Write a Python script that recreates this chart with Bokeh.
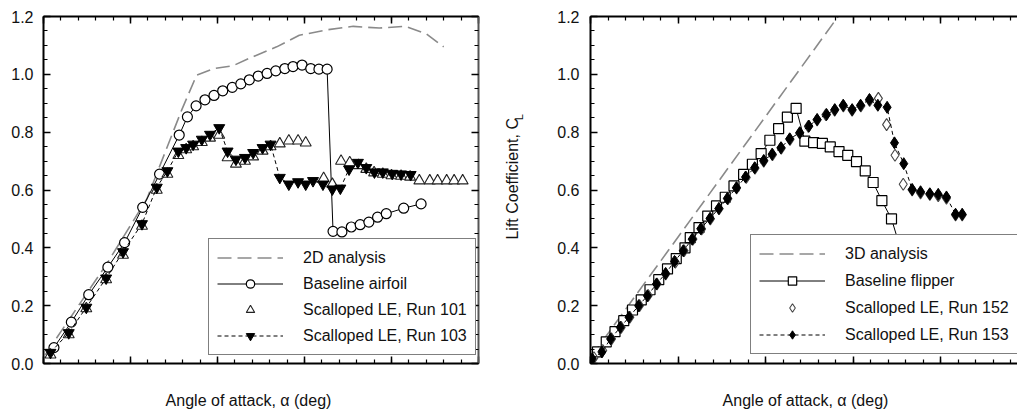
from bokeh.plotting import figure
from bokeh.models import (Range1d, LinearAxis, FixedTicker, PrintfTickFormatter,
                          Legend, LegendItem, CustomLabelingPolicy)
from bokeh.layouts import row, column
from bokeh.embed import file_html
from bokeh.resources import INLINE
from bokeh.core.properties import value
import math

FONT = "Liberation Sans"
GRAY = "#8a8a8a"
INK = "#111111"

# ---------------- Left panel (2D airfoil) ----------------
analysis2d_aoa = [0.1, 3.65, 5.94, 7.95, 8.8, 9.8, 10.9, 12.0, 13.4, 14.7, 16.3, 17.8, 19.3, 20.8, 22.0, 23.0]
analysis2d_cl = [0.03, 0.346, 0.569, 0.878, 0.997, 1.02, 1.03, 1.06, 1.095, 1.135, 1.154, 1.166, 1.16, 1.166, 1.14, 1.095]

airfoil_aoa = [0.6, 1.6, 2.6, 3.7, 4.66, 5.7, 6.67, 7.8, 8.27, 8.77, 9.28, 9.8, 10.3, 10.85, 11.34,
               11.83, 12.34, 12.85, 13.35, 13.87, 14.34, 14.86, 15.36, 15.83, 16.3,
               16.64, 17.15, 17.69, 18.2, 18.7, 19.2, 19.7, 20.7, 21.7]
airfoil_cl = [0.055, 0.143, 0.238, 0.333, 0.418, 0.54, 0.655, 0.79, 0.853, 0.891, 0.912, 0.927, 0.943, 0.955, 0.967,
              0.981, 0.994, 1.003, 1.012, 1.02, 1.027, 1.032, 1.02, 1.018, 1.018,
              0.457, 0.455, 0.472, 0.48, 0.489, 0.506, 0.518, 0.537, 0.552]

run101_aoa = [0.4, 1.45, 2.46, 3.6, 4.57, 5.66, 6.51, 7.12, 7.75, 8.2, 8.6, 9.1, 9.57, 10.1, 10.58, 11.06,
              11.58, 12.05, 12.59, 13.05, 13.58, 14.1, 14.63, 15.07, 16.1, 16.6, 17.1, 17.6, 18.1, 18.55,
              19.0, 19.5, 20.0, 20.55, 21.07, 21.6, 22.2, 22.65, 23.17, 23.6, 24.09]
run101_cl = [0.03, 0.10, 0.19, 0.29, 0.375, 0.475, 0.6, 0.655, 0.72, 0.74, 0.75, 0.765, 0.78, 0.79, 0.712, 0.69,
             0.7, 0.715, 0.735, 0.75, 0.76, 0.77, 0.77, 0.763, 0.64, 0.62, 0.70, 0.695, 0.685, 0.672,
             0.66, 0.655, 0.65, 0.648, 0.645, 0.632, 0.632, 0.632, 0.632, 0.632, 0.632]

run103_aoa = [0.4, 1.45, 2.46, 3.6, 4.57, 5.66, 6.51, 7.12, 7.75, 8.2, 8.6, 9.1, 9.57, 10.1, 10.58, 11.06,
              11.58, 12.05, 12.59, 13.05, 13.58, 14.1, 14.63, 15.07, 15.49, 16.06, 16.6, 17.06, 17.56,
              18.07, 18.55, 19.02, 19.5, 20.04, 20.55, 21.1]
run103_cl = [0.038, 0.106, 0.194, 0.295, 0.386, 0.483, 0.609, 0.666, 0.734, 0.746, 0.758, 0.775, 0.792, 0.815,
             0.734, 0.706, 0.712, 0.729, 0.746, 0.758, 0.643, 0.62, 0.628, 0.62, 0.632, 0.62, 0.603, 0.606,
             0.672, 0.695, 0.677, 0.662, 0.662, 0.657, 0.655, 0.653]

# ---------------- Right panel (3D flipper) ----------------
analysis3d_aoa = [0.0, 14.15]
analysis3d_cl = [0.02, 1.2]

flipper_aoa = [0.4, 0.9, 1.4, 1.9, 2.4, 2.9, 3.4, 3.9, 4.4, 4.9, 5.4, 5.7, 6.2, 6.7, 7.2, 7.7, 8.2, 8.75,
               9.25, 9.75, 10.25, 10.75, 11.25, 11.75, 12.25, 12.75, 13.25, 13.7, 14.2, 14.7, 15.2,
               15.7, 16.15, 16.65, 17.2, 17.7]
flipper_cl = [0.04, 0.075, 0.11, 0.148, 0.185, 0.22, 0.255, 0.29, 0.327, 0.363, 0.4, 0.435, 0.47, 0.51,
              0.545, 0.575, 0.614, 0.654, 0.689, 0.726, 0.772, 0.812, 0.852, 0.882, 0.769, 0.764, 0.761,
              0.749, 0.733, 0.72, 0.698, 0.666, 0.626, 0.563, 0.5, 0.40]

run152_aoa = [0.2, 0.7, 1.2, 1.75, 2.25, 2.8, 3.3, 3.8, 4.3, 4.85, 5.35, 5.85, 6.35, 6.85, 7.35, 7.85, 8.35,
              8.9, 9.4, 9.9, 10.4, 10.9, 11.4, 11.95, 12.45, 12.95, 13.45, 13.95, 14.45, 14.95, 15.45,
              15.95, 16.45, 16.92, 17.4, 17.87, 18.38, 18.86, 19.39, 19.87, 20.34, 20.86, 21.24]
run152_cl = [0.02, 0.045, 0.085, 0.125, 0.16, 0.2, 0.235, 0.275, 0.31, 0.35, 0.39, 0.43, 0.465, 0.5, 0.535,
             0.57, 0.607, 0.643, 0.675, 0.7, 0.722, 0.745, 0.775, 0.797, 0.82, 0.842, 0.86, 0.876, 0.891,
             0.876, 0.891, 0.91, 0.917, 0.826, 0.72, 0.62, 0.6, 0.59, 0.585, 0.58, 0.572, 0.514, 0.514]

run153_aoa = [0.1, 0.65, 1.15, 1.7, 2.2, 2.75, 3.25, 3.77, 4.29, 4.8, 5.3, 5.81, 6.3, 6.83, 7.33, 7.82,
              8.34, 8.86, 9.38, 9.9, 10.38, 10.88, 11.38, 11.96, 12.48, 12.95, 13.49, 13.96, 14.44, 14.95,
              15.43, 15.94, 16.42, 16.95, 17.37, 17.9, 18.38, 18.86, 19.39, 19.87, 20.34, 20.86, 21.24]
run153_cl = [0.016, 0.04, 0.085, 0.125, 0.16, 0.2, 0.234, 0.275, 0.311, 0.353, 0.39, 0.43, 0.466, 0.502,
             0.536, 0.571, 0.608, 0.645, 0.677, 0.702, 0.724, 0.746, 0.777, 0.798, 0.821, 0.844, 0.861,
             0.878, 0.893, 0.878, 0.893, 0.913, 0.893, 0.886, 0.763, 0.691, 0.602, 0.594, 0.587, 0.585,
             0.576, 0.516, 0.516]

x_major = [0, 5, 10, 15, 20, 25]
x_minor = list(range(0, 26))
y_major = [0.0, 0.2, 0.4, 0.6, 0.8, 1.0, 1.2]
y_minor = [round(i * 0.05, 2) for i in range(25)]

x_label = "Angle of attack, \u03b1 (deg)"
y_label_main = "Lift Coefficient, C"
y_label_sub = "L"

NO_LABELS = "for (const i of indices) indices.unset(i)"


def style_axis(ax, line_color="black", labels=True):
    ax.axis_line_width = 2
    ax.axis_line_color = line_color
    ax.major_tick_in = 7
    ax.major_tick_out = 0
    ax.minor_tick_in = 4
    ax.minor_tick_out = 0
    ax.major_tick_line_width = 1.5
    ax.minor_tick_line_width = 1.2
    ax.major_tick_line_color = "black"
    ax.minor_tick_line_color = "black"
    ax.major_label_text_font = FONT
    ax.major_label_text_color = INK
    if labels:
        ax.major_label_text_font_size = "16px"
    else:
        ax.major_label_text_font_size = "0px"
        ax.major_label_standoff = 0
        ax.major_label_policy = CustomLabelingPolicy(code=NO_LABELS)


def make_frame(p, right_axis=True, label_standoff=10):
    p.outline_line_color = None
    p.grid.visible = False
    xt = FixedTicker(ticks=x_major, minor_ticks=x_minor)
    yt = FixedTicker(ticks=y_major, minor_ticks=y_minor)
    p.xaxis.ticker = xt
    p.yaxis.ticker = yt
    for ax in p.xaxis:
        style_axis(ax, labels=False)
    for ax in p.yaxis:
        style_axis(ax, labels=True)
        ax.formatter = PrintfTickFormatter(format="%.1f")
        ax.major_label_standoff = label_standoff
    top = LinearAxis(ticker=xt)
    style_axis(top, labels=False)
    p.add_layout(top, "above")
    if right_axis:
        rgt = LinearAxis(ticker=yt)
        style_axis(rgt, line_color="#555555", labels=False)
        p.add_layout(rgt, "right")


def make_legend(items, loc, spacing):
    return Legend(items=items, location=loc, margin=0, padding=8, spacing=spacing,
                  glyph_width=66, glyph_height=21, label_height=21, label_standoff=20,
                  label_text_font=FONT, label_text_font_size="16px", label_text_color=INK,
                  border_line_color="black", border_line_width=1.5,
                  background_fill_color="white", background_fill_alpha=1.0)


def text_panel(width, height):
    q = figure(width=width, height=height, x_range=Range1d(0, width), y_range=Range1d(0, height),
               output_backend="svg", toolbar_location=None, x_axis_location=None, y_axis_location=None,
               min_border_left=0, min_border_right=0, min_border_top=0, min_border_bottom=0)
    q.outline_line_color = None
    q.grid.visible = False
    return q


TOP_H = 372

# ---------------- Left figure ----------------
p1 = figure(width=502, height=TOP_H, x_range=Range1d(0, 25), y_range=Range1d(0, 1.2),
            output_backend="svg", toolbar_location=None,
            min_border_left=43, min_border_right=24, min_border_top=16, min_border_bottom=6)
make_frame(p1, right_axis=True, label_standoff=10)

r2d = p1.line(analysis2d_aoa, analysis2d_cl, line_color=GRAY, line_width=1.6, line_dash="14 6")
rbl = p1.line(airfoil_aoa, airfoil_cl, line_color="black", line_width=1)
rbm = p1.scatter(airfoil_aoa, airfoil_cl, marker="circle", size=10, line_color="black",
                 line_width=1.2, fill_color="white")
r101 = p1.scatter(run101_aoa, run101_cl, marker="triangle", size=11, line_color="#222222",
                  line_width=1.1, fill_color="white")
r103l = p1.line(run103_aoa, run103_cl, line_color="black", line_width=1, line_dash="4 3")
r103m = p1.scatter(run103_aoa, run103_cl, marker="inverted_triangle", size=11, line_color="black",
                   line_width=1, fill_color="black")

p1.add_layout(make_legend([
    LegendItem(label="2D analysis", renderers=[r2d]),
    LegendItem(label="Baseline airfoil", renderers=[rbl, rbm]),
    LegendItem(label="Scalloped LE, Run 101", renderers=[r101]),
    LegendItem(label="Scalloped LE, Run 103", renderers=[r103l, r103m]),
], (165, 8), 5))

# ---------------- Y-label strip between panels ----------------
p3 = text_panel(26, TOP_H)
p3.text(x=[10], y=[198], text=[y_label_main], angle=math.pi / 2, text_font=value(FONT),
        text_font_size="16px", text_color=INK, text_align="center", text_baseline="middle")
p3.text(x=[16.5], y=[264], text=[y_label_sub], angle=math.pi / 2, text_font=value(FONT),
        text_font_size="11px", text_color=INK, text_align="center", text_baseline="middle")

# ---------------- Right figure ----------------
p2 = figure(width=489, height=TOP_H, x_range=Range1d(0, 24.4), y_range=Range1d(0, 1.2),
            output_backend="svg", toolbar_location=None,
            min_border_left=62, min_border_right=0, min_border_top=15, min_border_bottom=9)
make_frame(p2, right_axis=False, label_standoff=11)

r3d = p2.line(analysis3d_aoa, analysis3d_cl, line_color=GRAY, line_width=1.6, line_dash="14 6")
rfl = p2.line(flipper_aoa, flipper_cl, line_color="black", line_width=1)
rfm = p2.scatter(flipper_aoa, flipper_cl, marker="square", size=10, line_color="black",
                 line_width=1.2, fill_color="white")
r152 = p2.scatter(run152_aoa, run152_cl, marker="diamond", size=12, line_color="#444444",
                  line_width=1.1, fill_color="white", fill_alpha=0.0)
r153l = p2.line(run153_aoa, run153_cl, line_color="black", line_width=1, line_dash="4 3")
r153m = p2.scatter(run153_aoa, run153_cl, marker="diamond", size=12, line_color="black",
                   line_width=1, fill_color="black")

p2.add_layout(make_legend([
    LegendItem(label="3D analysis", renderers=[r3d]),
    LegendItem(label="Baseline flipper", renderers=[rfl, rfm]),
    LegendItem(label="Scalloped LE, Run 152", renderers=[r152]),
    LegendItem(label="Scalloped LE, Run 153", renderers=[r153l, r153m]),
], (160, 9), 6))

# ---------------- X-label strip below panels ----------------
q = text_panel(1017, 40)
q.text(x=[248, 805], y=[12, 12], text=[x_label, x_label], text_font=value(FONT),
       text_font_size="16px", text_color=INK, text_align="center", text_baseline="middle")

layout = column(row(p1, p3, p2), q)
open("out.html", "w").write(file_html(layout, INLINE))
